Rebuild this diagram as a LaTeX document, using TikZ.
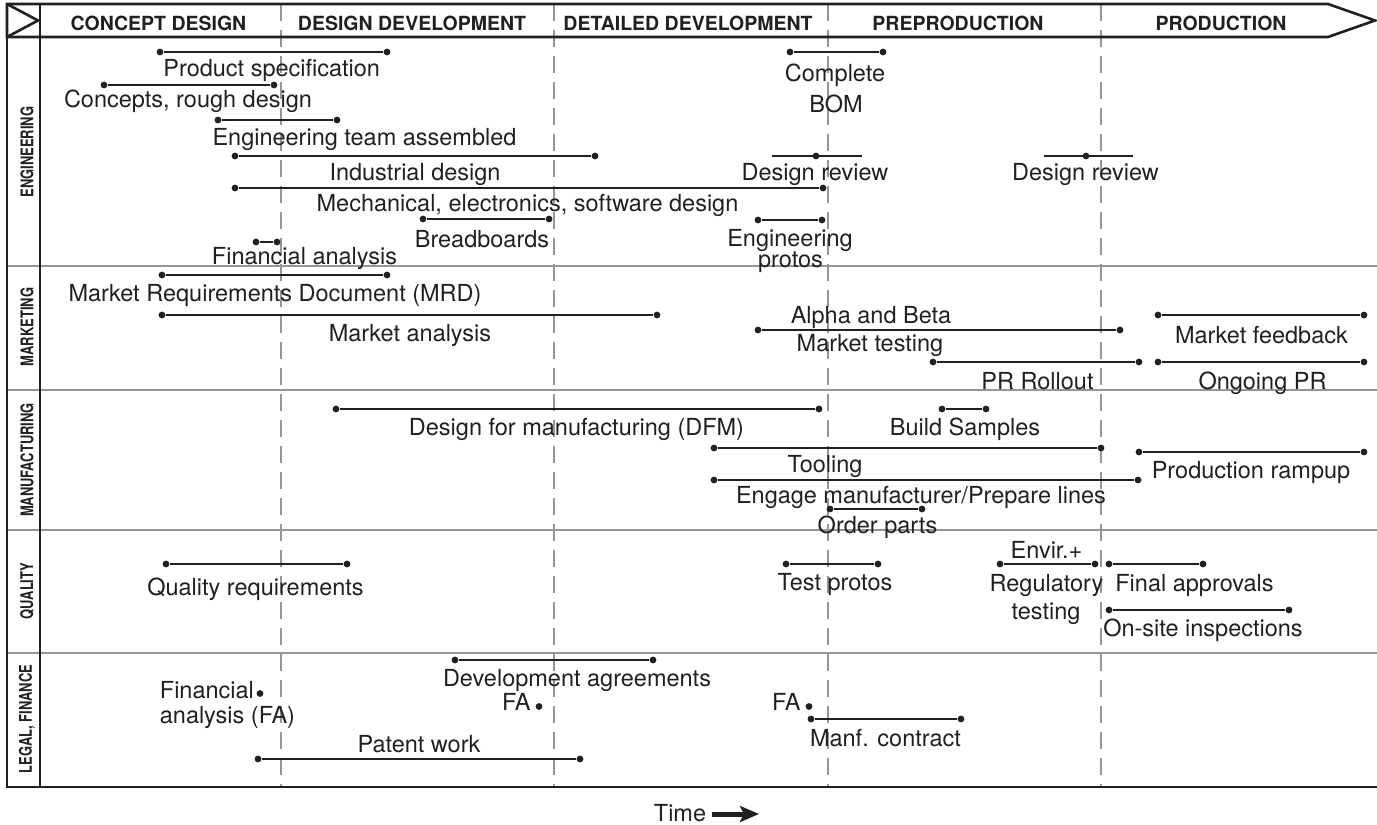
\documentclass[tikz,border=0pt]{standalone}
\usepackage{fontspec}
\setmainfont{TeX Gyre Heros}
\usepackage{graphicx}
\usetikzlibrary{arrows.meta}
\definecolor{ink}{RGB}{35,31,32}
\definecolor{sepgray}{RGB}{150,150,150}
\newcommand\tbar[4]{%
  \node[dotn] (#1a) at (#2,#4) {};
  \node[dotn] (#1b) at (#3,#4) {};
  \draw[barline] (#1a) -- (#1b);
}
\begin{document}
\begin{tikzpicture}[x=0.5pt,y=-0.5pt,
  frame/.style={draw=ink, line width=1.3pt},
  sepline/.style={draw=sepgray, line width=1pt},
  phaseline/.style={draw=sepgray, line width=1pt, dash pattern=on 8.5pt off 4.5pt},
  barline/.style={draw=ink, line width=1.1pt},
  dotn/.style={circle, fill=ink, draw=none, inner sep=0pt, minimum size=3.4pt},
  lbl/.style={text=ink, inner sep=0pt, anchor=base, font=\fontsize{11.75}{14}\selectfont},
  head/.style={text=ink, inner sep=0pt, anchor=base, font=\fontsize{9.75}{12}\selectfont\bfseries},
  lane/.style={text=ink, inner sep=0pt, rotate=90, font=\fontsize{8.75}{10}\selectfont\bfseries}]
\useasboundingbox (0,0) rectangle (1377,825);
% lane separators
\foreach \yy in {266,390,530,653} \draw[sepline] (7,\yy) -- (1377,\yy);
% phase lines
\foreach \xx in {281,554,828,1101} \draw[phaseline] (\xx,4) -- (\xx,787);
% frame
\draw[frame] (7,37) -- (7,787) -- (1377,787);
\draw[frame] (40,4) -- (40,787);
\draw[frame] (7,4) -- (1328,4) -- (1375,20.5) -- (1328,37) -- (7,37) -- cycle;
\draw[frame] (7,4) -- (38,20.5) -- (7,37);
% headings
\node[head] (h1) at (158.5,30) {CONCEPT DESIGN};
\node[head] (h2) at (412,30) {DESIGN DEVELOPMENT};
\node[head] (h3) at (688,30) {DETAILED DEVELOPMENT};
\node[head] (h4) at (958,30) {PREPRODUCTION};
\node[head] (h5) at (1221,30) {PRODUCTION};
% lane labels
\node[lane] (ln1) at (27,152) {\scalebox{0.74}[1]{ENGINEERING}};
\node[lane] (ln2) at (27,327) {\scalebox{0.74}[1]{MARKETING}};
\node[lane] (ln3) at (27,460) {\scalebox{0.74}[1]{MANUFACTURING}};
\node[lane] (ln4) at (27,591) {\scalebox{0.74}[1]{QUALITY}};
\node[lane] (ln5) at (27,719) {\scalebox{0.74}[1]{LEGAL, FINANCE}};
% ENGINEERING
\tbar{ps}{160}{387}{52}
\node[lbl] (psl) at (271.7,76) {Product specification};
\tbar{cr}{104}{274}{85}
\node[lbl] (crl) at (188,107) {Concepts, rough design};
\tbar{et}{218}{337}{120}
\node[lbl] (etl) at (364.5,145) {Engineering team assembled};
\tbar{id}{235}{595}{156}
\node[lbl] (idl) at (415,180) {Industrial design};
\tbar{me}{235}{823}{188}
\node[lbl] (mel) at (527.5,211) {Mechanical, electronics, software design};
\tbar{bb}{423}{549}{219}
\node[lbl] (bbl) at (482,247) {Breadboards};
\tbar{fa}{256}{277}{242}
\node[lbl] (fal) at (304.5,264) {Financial analysis};
\tbar{bom}{790}{883}{52}
\node[lbl] (boml1) at (835,81) {Complete};
\node[lbl] (boml2) at (836,112) {BOM};
\coordinate (dra) at (772,156); \coordinate (drb) at (862,156);
\draw[barline] (dra) -- (drb);
\node[dotn] (drm) at (816,156) {};
\node[lbl] (drl) at (815,180) {Design review};
\tbar{ep}{758}{822}{220}
\node[lbl] (epl1) at (790,246) {Engineering};
\node[lbl] (epl2) at (790.5,267) {protos};
\coordinate (drc) at (1044,156); \coordinate (drd) at (1133,156);
\draw[barline] (drc) -- (drd);
\node[dotn] (drn) at (1086,156) {};
\node[lbl] (drl2) at (1085.5,180) {Design review};
% MARKETING
\tbar{mrd}{162}{387}{275}
\node[lbl] (mrdl) at (275,301) {Market Requirements Document (MRD)};
\tbar{ma}{162}{657}{315}
\node[lbl] (mal) at (410,341) {Market analysis};
\tbar{ab}{758}{1120}{330}
\node[lbl] (abl1) at (871,323) {Alpha and Beta};
\node[lbl] (abl2) at (870,351) {Market testing};
\tbar{pr}{933}{1139}{362}
\node[lbl] (prl) at (1037.5,389) {PR Rollout};
\tbar{mf}{1158}{1364}{315}
\node[lbl] (mfl) at (1261.5,343) {Market feedback};
\tbar{op}{1158}{1364}{362}
\node[lbl] (opl) at (1262.5,389) {Ongoing PR};
% MANUFACTURING
\tbar{dfm}{336}{819}{409}
\node[lbl] (dfml) at (576.5,435) {Design for manufacturing (DFM)};
\tbar{bs}{942}{986}{409}
\node[lbl] (bsl) at (965,435) {Build Samples};
\tbar{to}{714}{1101}{448}
\node[lbl] (tol) at (825,472) {Tooling};
\tbar{em}{714}{1138}{480}
\node[lbl] (eml) at (921,503) {Engage manufacturer/Prepare lines};
\tbar{opa}{830}{922}{509}
\node[lbl] (opal) at (877.5,533) {Order parts};
\tbar{rp}{1139}{1364}{452}
\node[lbl] (rpl) at (1251,478) {Production rampup};
% QUALITY
\tbar{qr}{166}{347}{564}
\node[lbl] (qrl) at (255.5,595) {Quality requirements};
\tbar{tp}{786}{878}{564}
\node[lbl] (tpl) at (835,590) {Test protos};
\tbar{er}{1000}{1095}{564}
\node[lbl] (erl1) at (1046.5,558) {Envir.+};
\node[lbl] (erl2) at (1046.5,591) {Regulatory};
\node[lbl] (erl3) at (1046,619) {testing};
\tbar{fap}{1109}{1203}{564}
\node[lbl] (fapl) at (1194.5,591) {Final approvals};
\tbar{os}{1109}{1289}{610}
\node[lbl] (osl) at (1203,636) {On-site inspections};
% LEGAL, FINANCE
\tbar{da}{455}{653}{660}
\node[lbl] (dal) at (577,686) {Development agreements};
\node[dotn] (fad1) at (260,693.5) {};
\node[lbl, anchor=base west] (fal1) at (159.5,698) {Financial};
\node[lbl, anchor=base west] (fal2) at (159.5,723) {analysis (FA)};
\node[dotn] (fad2) at (539,706.5) {};
\node[lbl, anchor=base east] (fal3) at (531,710) {FA};
\node[dotn] (fad3) at (809,706.5) {};
\node[lbl, anchor=base east] (fal4) at (801,710) {FA};
\tbar{mc}{811}{961}{719}
\node[lbl] (mcl) at (885.5,746) {Manf. contract};
\tbar{pw}{258}{580}{759}
\node[lbl] (pwl) at (419,752) {Patent work};
% time
\node[lbl] (timel) at (680,821) {Time};
\coordinate (ta) at (712,814); \coordinate (tb) at (759,814);
\draw[draw=ink, line width=2.5pt, -{Stealth[length=9.5pt,width=8pt,inset=2pt]}] (ta) -- (tb);
\end{tikzpicture}
\end{document}
